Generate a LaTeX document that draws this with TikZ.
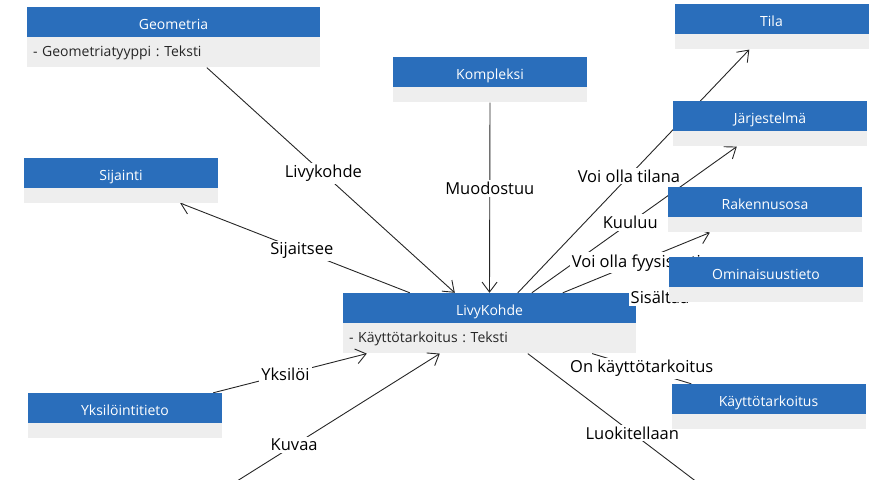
\documentclass[tikz,border=0pt]{standalone}
\usepackage{fontspec}
\setmainfont{Open Sans}
\usetikzlibrary{positioning,arrows.meta}

\definecolor{boxblue}{RGB}{42,110,187}
\definecolor{boxgrey}{RGB}{238,238,238}

% Connectors go below the class boxes
\pgfdeclarelayer{links}
\pgfsetlayers{links,main}

\frenchspacing

\begin{document}
\begin{tikzpicture}[x=1pt, y=-1pt,
    classhead/.style={fill=boxblue, text=white, minimum height=30pt, inner sep=0pt, text height=15pt, text depth=0pt, font=\fontsize{14}{16}\selectfont},
    widebox/.style={minimum width=293pt},
    narrowbox/.style={minimum width=194pt},
    bodyempty/.style={fill=boxgrey, minimum height=15pt, inner sep=0pt},
    bodyattr/.style={fill=boxgrey, minimum height=30pt, inner ysep=0pt, inner xsep=6pt, text width=281pt, align=left, text=black!85, font=\fontsize{14}{16}\selectfont},
    link/.style={draw=black!85, line width=0.9pt},
    arr/.style={link, -{Straight Barb[length=10pt,width=15pt]}},
    lbl/.style={fill=white, inner sep=2pt, text=black, font=\fontsize{16.5}{18}\selectfont}]

    \useasboundingbox (0,0) rectangle (869,479);

    % Draw the central class
    \begin{pgfonlayer}{links}
    \node[classhead, widebox] (livy) at (489.5,308) {LivyKohde};
    \node[bodyattr, below=0pt of livy] (livyb) {- Käyttötarkoitus : Teksti};
    \end{pgfonlayer}

    % Draw the classes around it
    \node[classhead, widebox] (geom) at (173.5,22) {Geometria};
    \node[bodyattr, below=0pt of geom] (geomb) {- Geometriatyyppi : Teksti};
    \node[classhead, narrowbox] (sij) at (121,172.5) {Sijainti};
    \node[bodyempty, narrowbox, below=0pt of sij] (sijb) {};
    \node[classhead, narrowbox] (komp) at (490,72) {Kompleksi};
    \node[bodyempty, narrowbox, below=0pt of komp] (kompb) {};
    \node[classhead, narrowbox] (tila) at (771.5,19) {Tila};
    \node[bodyempty, narrowbox, below=0pt of tila] (tilab) {};
    \node[classhead, narrowbox] (jarj) at (770,116) {Järjestelmä};
    \node[bodyempty, narrowbox, below=0pt of jarj] (jarjb) {};
    \node[classhead, narrowbox] (rak) at (765,202) {Rakennusosa};
    \node[bodyempty, narrowbox, below=0pt of rak] (rakb) {};
    \node[classhead, narrowbox] (omin) at (766,272) {Ominaisuustieto};
    \node[bodyempty, narrowbox, below=0pt of omin] (ominb) {};
    \node[classhead, narrowbox] (kayt) at (768.5,399) {Käyttötarkoitus};
    \node[bodyempty, narrowbox, below=0pt of kayt] (kaytb) {};
    \node[classhead, narrowbox] (yks) at (125,408) {Yksilöintitieto};
    \node[bodyempty, narrowbox, below=0pt of yks] (yksb) {};

    % Free ends of the links that leave the picture
    \coordinate (luok-end) at (760,530);
    \coordinate (kuv-start) at (175,520);

    % Draw the links
    \begin{pgfonlayer}{links}
    \draw[arr] ([xshift=180pt]geomb.south west) -- node[lbl, pos=0.47] {Livykohde} ([xshift=112pt]livy.north west);
    \draw[arr] (kompb.south) -- node[lbl, pos=0.45] {Muodostuu} (livy.north);
    \draw[arr] ([xshift=67pt]livy.north west) -- node[lbl, pos=0.47] {Sijaitsee} ([xshift=-38pt]sijb.south east);
    \draw[arr] ([xshift=175pt]livy.north west) -- node[lbl, pos=0.48] {Voi olla tilana} ([xshift=75pt]tilab.south west);
    \draw[arr] ([xshift=189pt]livy.north west) -- node[lbl, pos=0.48] {Kuuluu} ([xshift=64pt]jarjb.south west);
    \draw[arr] ([xshift=220pt]livy.north west) -- node[lbl] {Voi olla fyysisesti} ([xshift=42pt]rakb.south west);
    \draw[link] (livy.north east) -- node[lbl] {Sisältää} ([xshift=15pt]ominb.south west);
    \draw[link] ([xshift=20pt]kayt.north west) -- node[lbl] {On käyttötarkoitus} ([xshift=-44pt]livyb.south east);
    \draw[arr] ([xshift=185pt]livyb.south west) -- node[lbl, pos=0.45] {Luokitellaan} (luok-end);
    \draw[arr] ([xshift=-9pt]yks.north east) -- node[lbl, pos=0.47] {Yksilöi} ([xshift=24pt]livyb.south west);
    \draw[arr] (kuv-start) -- node[lbl, pos=0.45] {Kuvaa} ([xshift=97pt]livyb.south west);
    \end{pgfonlayer}

\end{tikzpicture}
\end{document}
